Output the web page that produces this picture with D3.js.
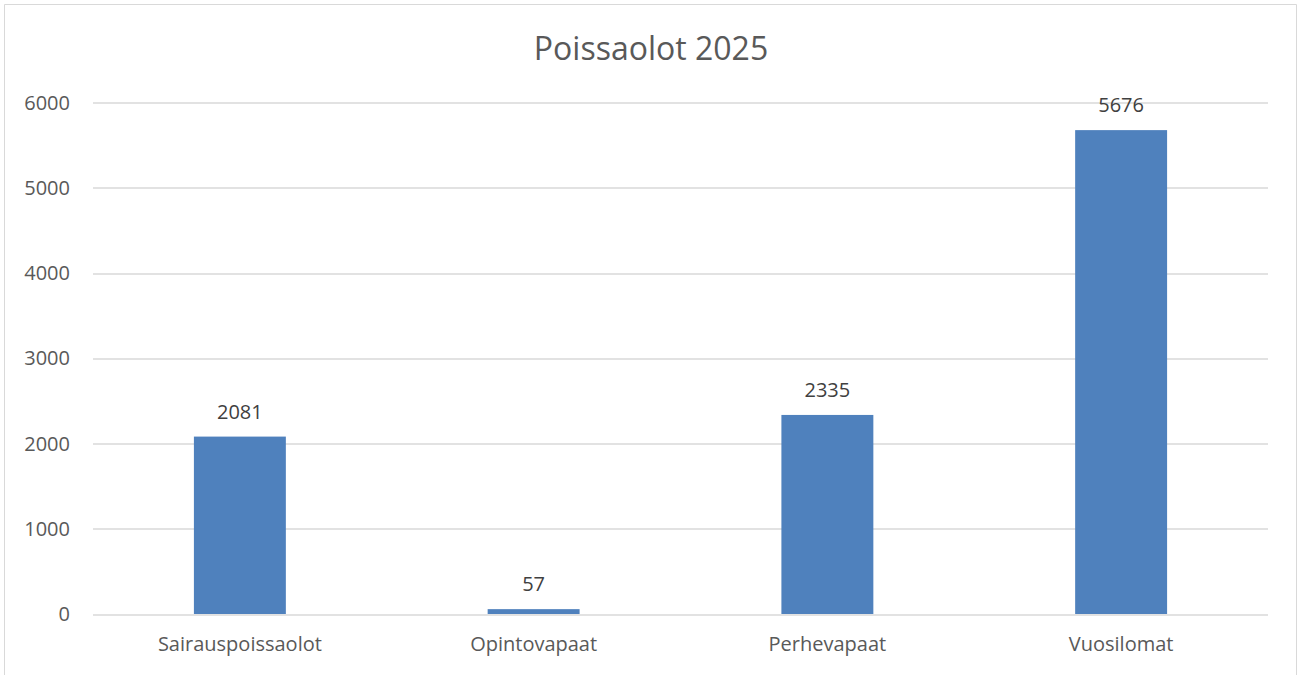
<!DOCTYPE html>
<html>
<head>
<meta charset="utf-8">
<script src="https://cdn.jsdelivr.net/npm/d3@7"></script>
<style>
  html, body { margin: 0; padding: 0; background: #fff; }
  svg { display: block; font-family: "Open Sans", "Noto Sans", sans-serif; }
</style>
</head>
<body>
<div id="chart"></div>
<script>
const title = 'Poissaolot 2025';
const categories = ['Sairauspoissaolot', 'Opintovapaat', 'Perhevapaat', 'Vuosilomat'];
const values = [2081, 57, 2335, 5676];
const yTicks = [0, 1000, 2000, 3000, 4000, 5000, 6000];

const width = 1299;
const height = 675;
const margin = { top: 102.5, right: 31, bottom: 61, left: 93 };
const innerWidth = width - margin.left - margin.right;
const innerHeight = height - margin.top - margin.bottom;

const svg = d3.select('#chart').append('svg')
  .attr('width', width).attr('height', height);

// chart frame: left, top and right edges (the bottom edge is off the picture)
svg.append('path')
  .attr('d', `M4.5,${height} V4.5 H1296.5 V${height}`)
  .attr('fill', 'none').attr('stroke', '#d9d9d9').attr('stroke-width', 1);

svg.append('text')
  .attr('x', 651).attr('y', 60)
  .attr('text-anchor', 'middle').attr('fill', '#595959')
  .attr('font-size', 32)
  .text(title);

const g = svg.append('g').attr('transform', `translate(${margin.left},${margin.top})`);

const x = d3.scaleBand().domain(categories).range([0, innerWidth]).paddingInner(0.687).paddingOuter(0.3435);
const y = d3.scaleLinear().domain([0, 6000]).range([innerHeight, 0]);

// gridlines
g.append('g').selectAll('line').data(yTicks).join('line')
  .attr('x1', 0).attr('x2', innerWidth)
  .attr('y1', (d) => Math.round(y(d)) + 0.5).attr('y2', (d) => Math.round(y(d)) + 0.5)
  .attr('stroke', '#d9d9d9').attr('stroke-width', 1.3);

// y tick labels
g.append('g').selectAll('text').data(yTicks).join('text')
  .attr('x', -23)
  .attr('y', (d) => y(d) + 7)
  .attr('text-anchor', 'end').attr('fill', '#595959')
  .attr('font-size', 20)
  .text(d3.format('d'));

// bars
g.append('g').selectAll('rect').data(values).join('rect')
  .attr('x', (d, i) => x(categories[i]))
  .attr('y', (d) => y(d))
  .attr('width', x.bandwidth())
  .attr('height', (d) => innerHeight - y(d))
  .attr('fill', '#4f81bd');

// data labels
g.append('g').selectAll('text').data(values).join('text')
  .attr('x', (d, i) => x(categories[i]) + x.bandwidth() / 2)
  .attr('y', (d) => y(d) - 18)
  .attr('text-anchor', 'middle').attr('fill', '#404040')
  .attr('font-size', 20)
  .text((d) => d);

// x axis labels
const xAxis = g.append('g').attr('transform', `translate(0,${innerHeight})`)
  .call(d3.axisBottom(x).tickSize(0).tickPadding(23));
xAxis.select('.domain').remove();
xAxis.selectAll('text').attr('fill', '#595959').attr('font-size', 20).attr('font-family', '"Open Sans", sans-serif');
</script>
</body>
</html>
